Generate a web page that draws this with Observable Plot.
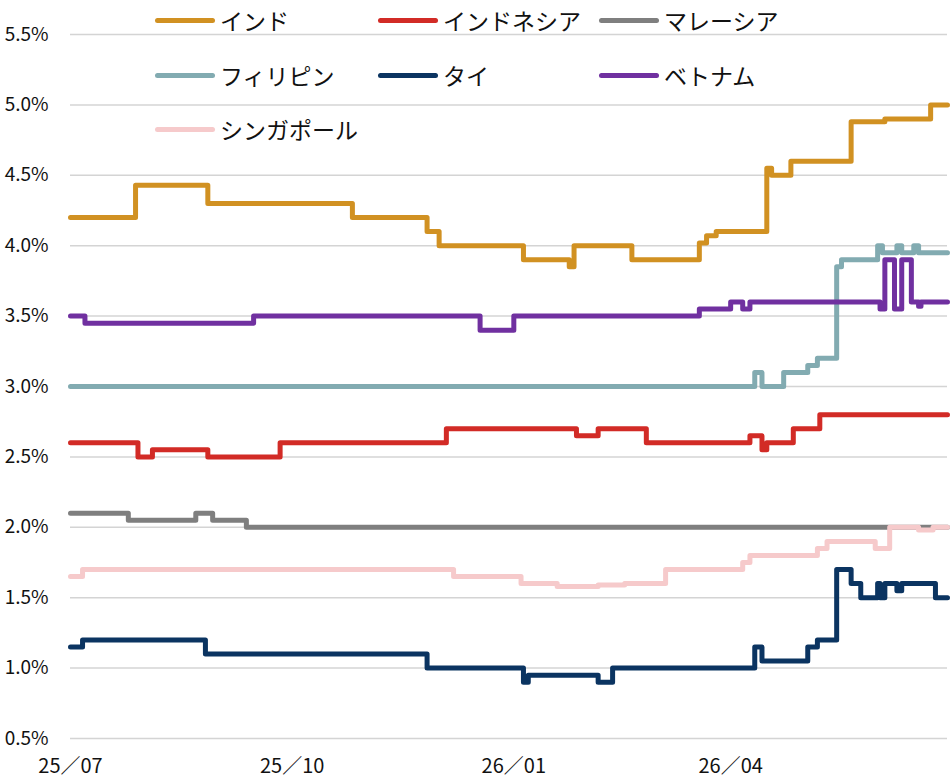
<!DOCTYPE html>
<html><head><meta charset="utf-8">
<script src="https://cdn.jsdelivr.net/npm/d3@7"></script>
<script src="https://cdn.jsdelivr.net/npm/@observablehq/plot@0.6"></script>
<style>
body{margin:0;background:#fff;}
#wrap{position:relative;width:950px;height:783px;font-family:"Noto Sans CJK JP",sans-serif;}
#legend{position:absolute;left:0;top:0;width:950px;height:160px;pointer-events:none;}
.item{position:absolute;display:flex;align-items:center;height:30px;}
.sw{width:60px;height:5px;border-radius:3px;margin-right:5px;}
.lb{font-size:23px;color:#111;white-space:nowrap;line-height:30px;}
</style></head>
<body><div id="wrap"><div id="chart"></div><div id="legend"></div></div>
<script>
// Series names and colours (legend order)
const seriesNames = ["インド","インドネシア","マレーシア","フィリピン","タイ","ベトナム","シンガポール"];
const seriesColors = ["#D19122","#D22B26","#7F7F7F","#82ABB1","#0B3461","#7030A0","#F6CACB"];

// Change points [date, value %] — values held until the next point
const india = [["2025-07-01",4.20],["2025-07-28",4.43],["2025-08-27",4.30],["2025-10-26",4.20],["2025-11-26",4.10],["2025-12-01",4.00],["2026-01-05",3.90],["2026-01-24",3.85],["2026-01-26",4.00],["2026-02-19",3.90],["2026-03-19",4.02],["2026-03-22",4.07],["2026-03-26",4.10],["2026-04-16",4.55],["2026-04-18",4.50],["2026-04-26",4.60],["2026-05-21",4.88],["2026-06-04",4.90],["2026-06-23",5.00],["2026-06-30",5.00]];
const indonesia = [["2025-07-01",2.60],["2025-07-29",2.50],["2025-08-04",2.55],["2025-08-27",2.50],["2025-09-26",2.60],["2025-12-04",2.70],["2026-01-27",2.65],["2026-02-05",2.70],["2026-02-25",2.60],["2026-04-09",2.65],["2026-04-14",2.55],["2026-04-16",2.60],["2026-04-27",2.70],["2026-05-08",2.80],["2026-06-30",2.80]];
const malaysia = [["2025-07-01",2.10],["2025-07-25",2.05],["2025-08-22",2.10],["2025-08-29",2.05],["2025-09-12",2.00],["2026-06-30",2.00]];
const philippines = [["2025-07-01",3.00],["2026-04-11",3.10],["2026-04-14",3.00],["2026-04-23",3.10],["2026-05-03",3.15],["2026-05-07",3.20],["2026-05-15",3.85],["2026-05-17",3.90],["2026-06-01",4.00],["2026-06-03",3.95],["2026-06-09",4.00],["2026-06-11",3.95],["2026-06-16",4.00],["2026-06-18",3.95],["2026-06-30",3.95]];
const thailand = [["2025-07-01",1.15],["2025-07-06",1.20],["2025-08-26",1.10],["2025-11-26",1.00],["2026-01-05",0.90],["2026-01-07",0.95],["2026-02-05",0.90],["2026-02-11",1.00],["2026-04-11",1.15],["2026-04-14",1.05],["2026-05-03",1.15],["2026-05-07",1.20],["2026-05-15",1.70],["2026-05-21",1.60],["2026-05-25",1.50],["2026-06-01",1.60],["2026-06-02",1.50],["2026-06-04",1.60],["2026-06-09",1.55],["2026-06-11",1.60],["2026-06-25",1.50],["2026-06-30",1.50]];
const vietnam = [["2025-07-01",3.50],["2025-07-07",3.45],["2025-09-15",3.50],["2025-12-18",3.40],["2026-01-01",3.50],["2026-03-19",3.55],["2026-04-01",3.60],["2026-04-06",3.55],["2026-04-09",3.60],["2026-06-02",3.55],["2026-06-04",3.90],["2026-06-08",3.55],["2026-06-11",3.90],["2026-06-15",3.60],["2026-06-18",3.57],["2026-06-19",3.60],["2026-06-30",3.60]];
const singapore = [["2025-07-01",1.65],["2025-07-06",1.70],["2025-12-07",1.65],["2026-01-04",1.60],["2026-01-19",1.58],["2026-02-05",1.59],["2026-02-16",1.60],["2026-03-05",1.70],["2026-04-06",1.75],["2026-04-09",1.80],["2026-05-07",1.85],["2026-05-11",1.90],["2026-05-31",1.85],["2026-06-06",2.00],["2026-06-18",1.98],["2026-06-24",2.00],["2026-06-30",2.00]];

// Axis ticks
const xTickDates = ["2025-07-01","2025-10-01","2026-01-01","2026-04-01"];
const xTickLabels = ["25／07","25／10","26／01","26／04"];
const yTicks = [0.5,1.0,1.5,2.0,2.5,3.0,3.5,4.0,4.5,5.0,5.5];
const xDomain = ["2025-07-01","2026-06-30"];

const parse = d3.utcParse("%Y-%m-%d");
const seriesData = [india, indonesia, malaysia, philippines, thailand, vietnam, singapore];
const rows = [];
seriesData.forEach((arr, i) => arr.forEach(([d, v]) => rows.push({series: seriesNames[i], date: parse(d), value: v})));
const xTicks = xTickDates.map(parse);
const labelMap = new Map(xTicks.map((d, i) => [+d, xTickLabels[i]]));

const chart = Plot.plot({
  width: 950, height: 783,
  marginLeft: 70, marginRight: 3, marginTop: 34, marginBottom: 45,
  style: {fontFamily: '"Noto Sans CJK JP", sans-serif', background: "white", color: "#111"},
  x: {type: "utc", domain: xDomain.map(parse), label: null},
  y: {domain: [0.5, 5.5], label: null},
  color: {domain: seriesNames, range: seriesColors},
  marks: [
    Plot.gridY(yTicks, {stroke: "#d4d4d4", strokeOpacity: 1, strokeWidth: 1.5}),
    Plot.axisY(yTicks, {tickSize: 0, tickPadding: 22, tickFormat: d => d.toFixed(1) + "%", fontSize: 19, label: null}),
    Plot.axisX(xTicks, {tickSize: 0, tickPadding: 20, tickFormat: d => labelMap.get(+d), fontSize: 20, label: null}),
    Plot.line(rows, {x: "date", y: "value", z: "series", stroke: "series", strokeWidth: 5,
      curve: "step-after", strokeLinejoin: "round", strokeLinecap: "round"})
  ]
});
document.getElementById("chart").appendChild(chart);

// Legend overlay (3 columns)
const colX = [155, 378, 599];
const rowY = [20, 75, 129];
const legend = document.getElementById("legend");
seriesNames.forEach((name, i) => {
  const it = document.createElement("div");
  it.className = "item";
  it.style.left = colX[i % 3] + "px";
  it.style.top = (rowY[Math.floor(i / 3)] - 15) + "px";
  it.innerHTML = `<span class="sw" style="background:${seriesColors[i]}"></span><span class="lb">${name}</span>`;
  legend.appendChild(it);
});
</script>
</body></html>
